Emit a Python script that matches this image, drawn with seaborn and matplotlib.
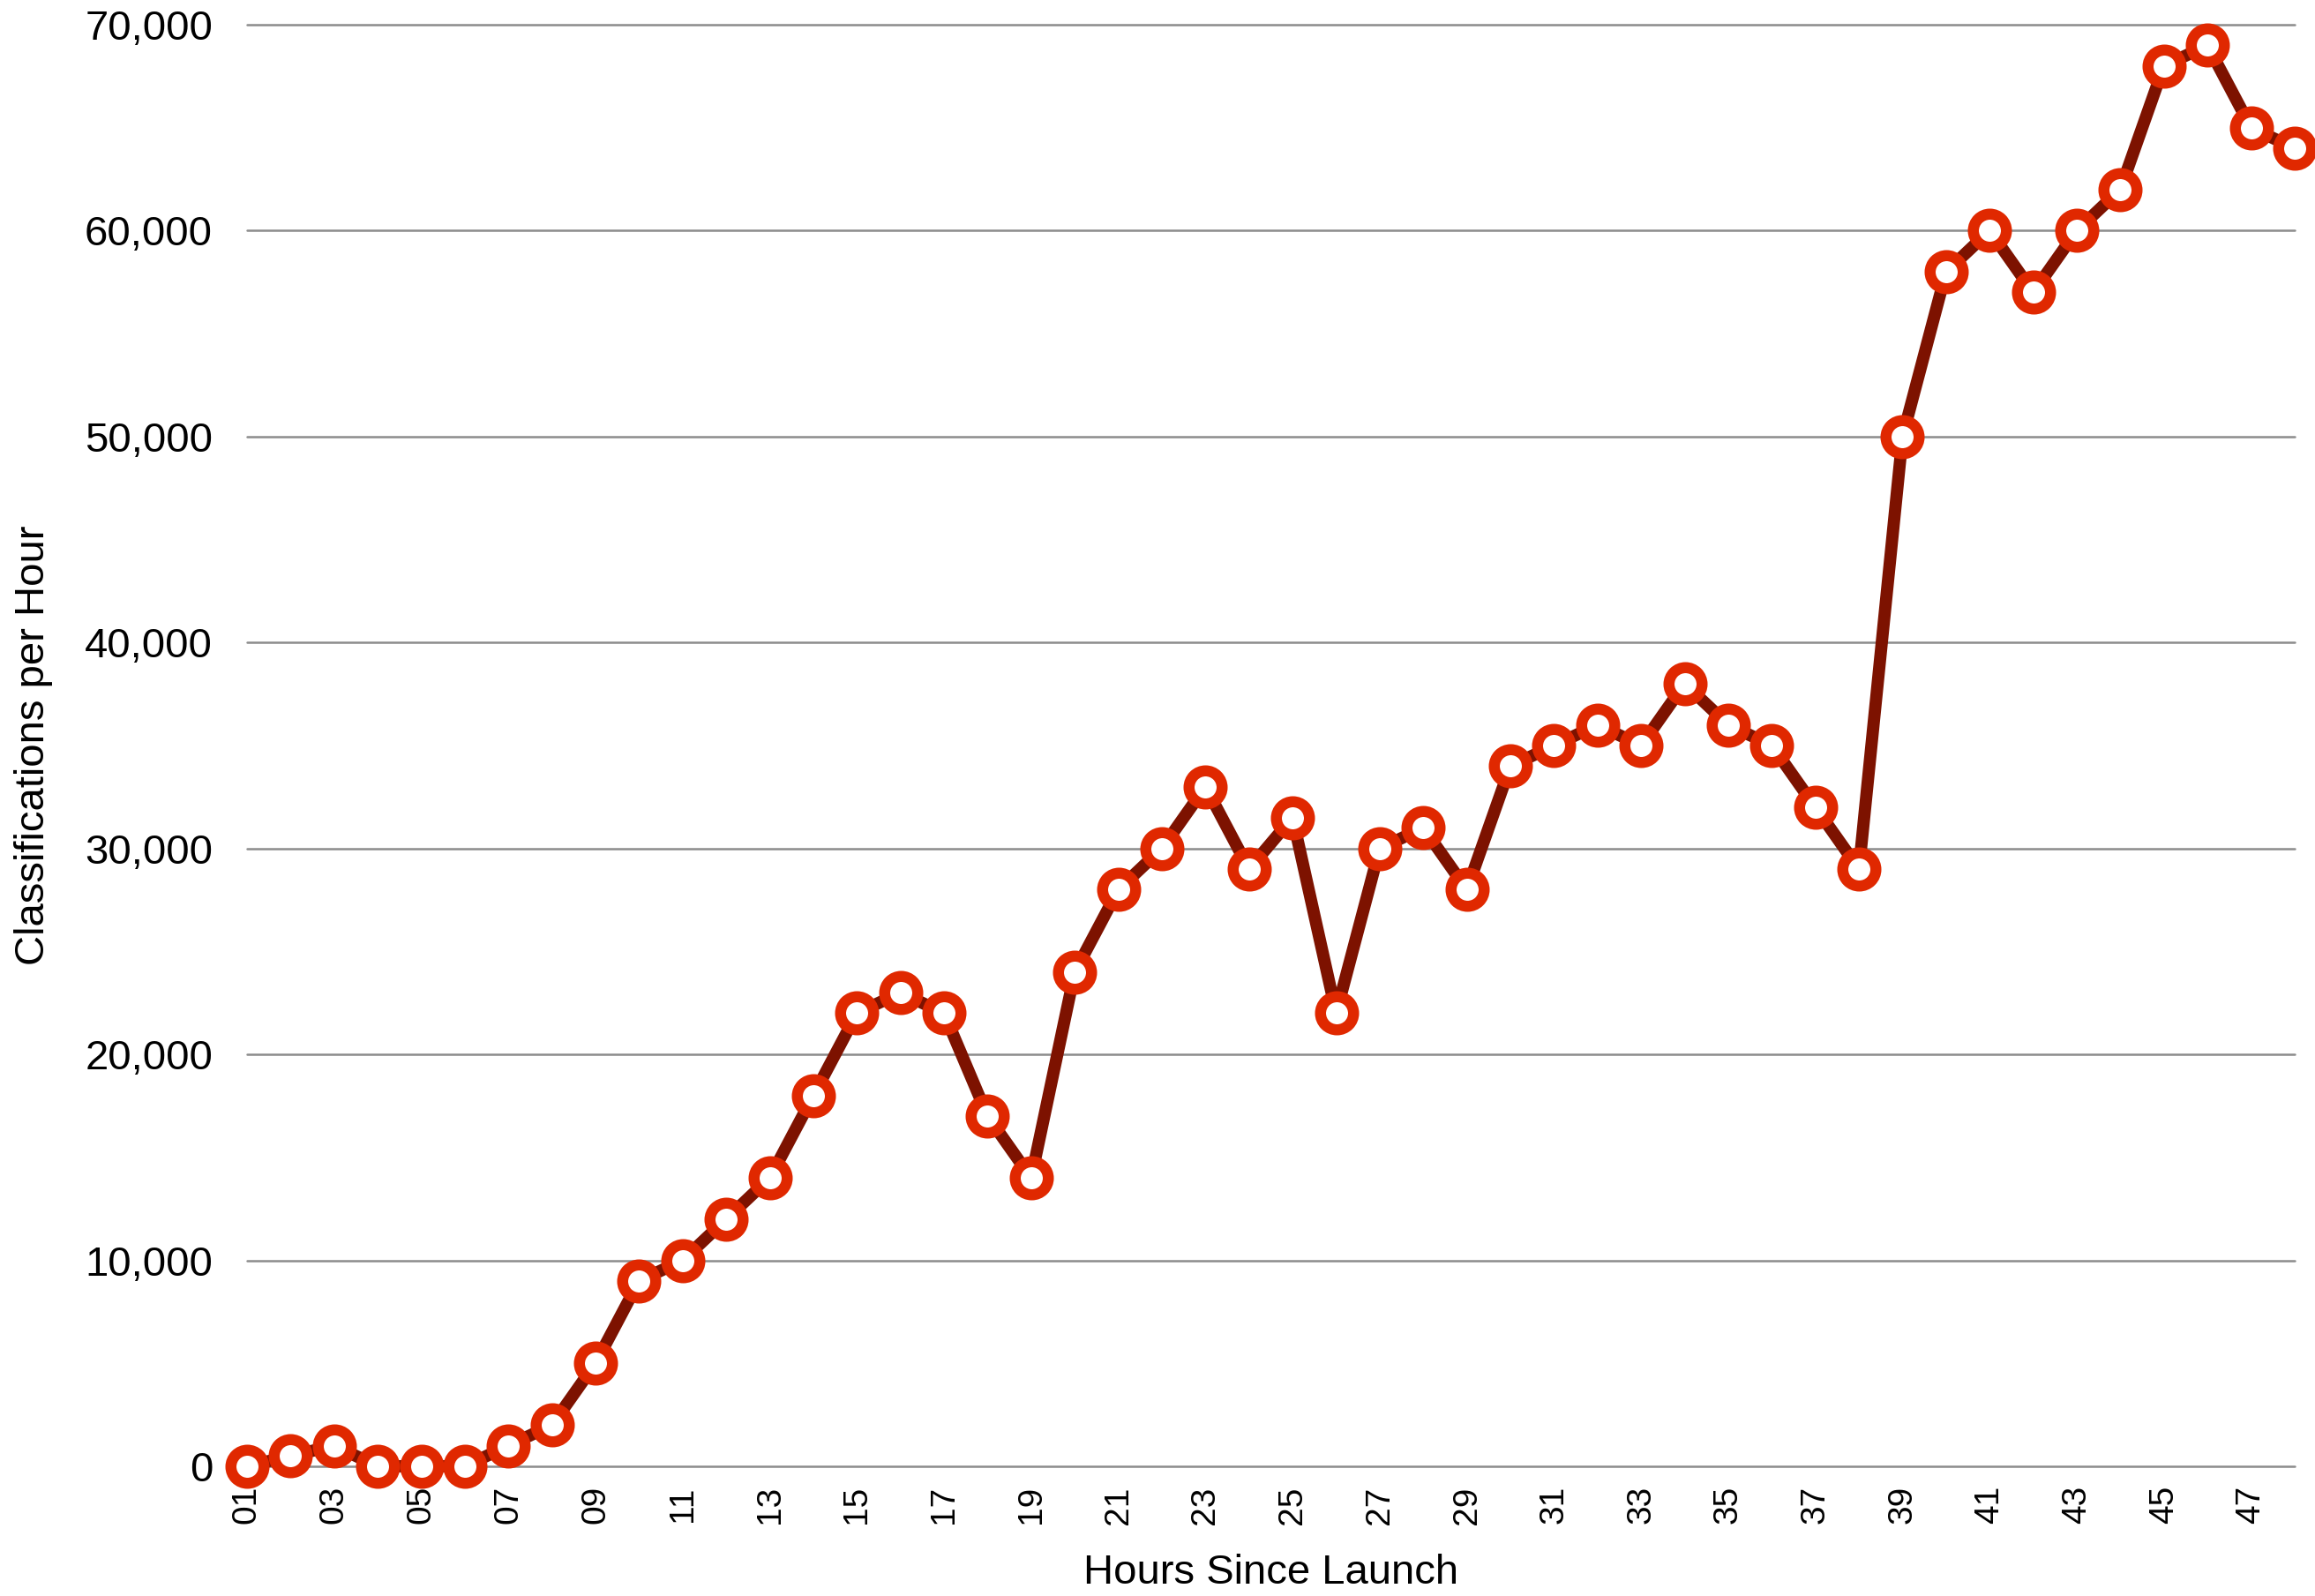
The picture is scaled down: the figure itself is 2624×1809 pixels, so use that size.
# Classifications per hour since launch
import numpy as np
import pandas as pd
import matplotlib.pyplot as plt
import seaborn as sns

hours = list(range(1, 49))
classifications = [
    0, 500, 1000, 0, 0, 0, 1000, 2000, 5000, 9000,
    10000, 12000, 14000, 18000, 22000, 23000, 22000, 17000, 14000, 24000,
    28000, 30000, 33000, 29000, 31500, 22000, 30000, 31000, 28000, 34000,
    35000, 36000, 35000, 38000, 36000, 35000, 32000, 29000, 50000, 58000,
    60000, 57000, 60000, 62000, 68000, 69000, 65000, 64000,
]
y_ticks = [0, 10000, 20000, 30000, 40000, 50000, 60000, 70000]
x_ticks = hours[::2]
x_tick_labels = [f"{h:02d}" for h in x_ticks]

df = pd.DataFrame({'hour': hours, 'count': classifications})

sns.set_style("white")
plt.rcParams['font.family'] = ['Liberation Sans', 'DejaVu Sans']
plt.rcParams['text.color'] = 'black'
plt.rcParams['axes.labelcolor'] = 'black'
plt.rcParams['xtick.color'] = 'black'
plt.rcParams['ytick.color'] = 'black'

fig = plt.figure(figsize=(13.12, 9.045), dpi=200)
ax = fig.add_axes([0.1067, 0.0813, 0.8845, 0.9032])

sns.lineplot(data=df, x='hour', y='count', ax=ax, color='#7d1200', linewidth=5,
             marker='o', markersize=13.5, markerfacecolor='white',
             markeredgecolor='#e02800', markeredgewidth=4.5, clip_on=False, zorder=3)

ax.set_xlim(1, 48)
ax.set_ylim(0, 70000)
ax.set_yticks(y_ticks)
ax.set_yticklabels([f"{v:,}" for v in y_ticks], fontsize=17)
ax.set_xticks(x_ticks)
ax.set_xticklabels(x_tick_labels, rotation=90, fontsize=14)
ax.tick_params(axis='y', length=0, pad=14)
ax.tick_params(axis='x', length=0, pad=8)

ax.grid(axis='y', color='#8c8c8c', linewidth=0.9)
ax.grid(axis='x', visible=False)
for gl in ax.get_ygridlines():
    gl.set_clip_on(False)
for s in ax.spines.values():
    s.set_visible(False)

ax.set_xlabel('Hours Since Launch', fontsize=17, labelpad=12)
ax.set_ylabel('Classifications per Hour', fontsize=17, labelpad=13)

fig.savefig('out.png', dpi=200)
